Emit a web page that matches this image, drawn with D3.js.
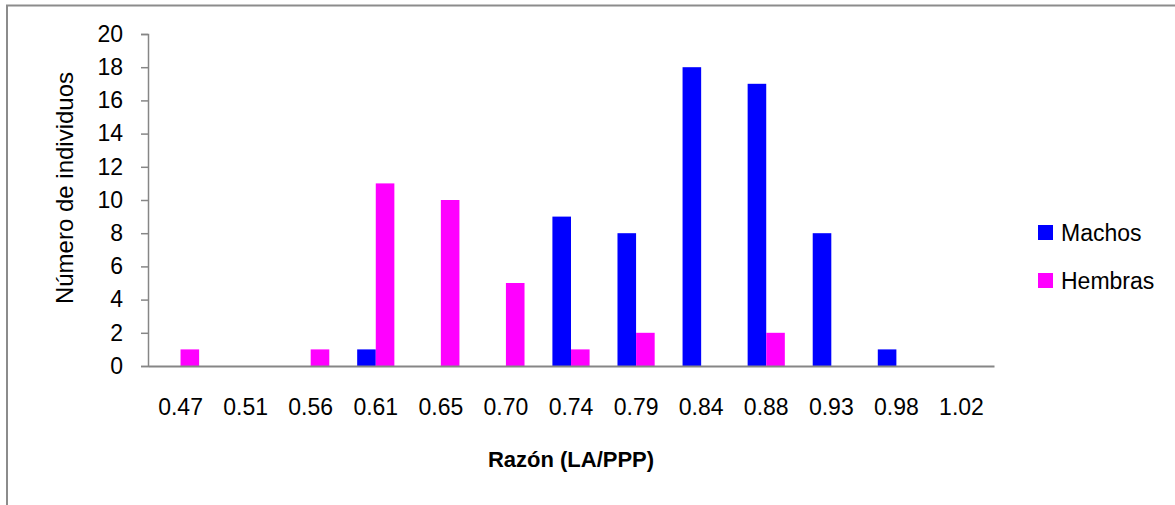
<!DOCTYPE html>
<html>
<head>
<meta charset="utf-8">
<script src="https://cdn.jsdelivr.net/npm/d3@7"></script>
<style>
  body { margin: 0; background: #fff; }
  svg { display: block; font-family: "Liberation Sans", Arial, sans-serif; }
</style>
</head>
<body>
<div id="chart"></div>
<script>
// datos
var categories = ["0.47", "0.51", "0.56", "0.61", "0.65", "0.70", "0.74", "0.79", "0.84", "0.88", "0.93", "0.98", "1.02"];
var machos  = [0, 0, 0, 1, 0, 0, 9, 8, 18, 17, 8, 1, 0];
var hembras = [1, 0, 1, 11, 10, 5, 1, 2, 0, 2, 0, 0, 0];
var seriesNames = ["Machos", "Hembras"];
var seriesColors = ["#0000ff", "#ff00ff"];
var yTicks = [0, 2, 4, 6, 8, 10, 12, 14, 16, 18, 20];

var W = 1175, H = 505;
var svg = d3.select("#chart").append("svg").attr("width", W).attr("height", H);

// marco exterior (recortado)
svg.append("path")
  .attr("d", "M7,505 V5.5 H1175")
  .attr("fill", "none").attr("stroke", "#8c8c8c").attr("stroke-width", 2);

// ojo: "top" choca con window.top
var pLeft = 148, pRight = 994, pTop = 34, pBottom = 366;

var x = d3.scaleBand().domain(categories).range([pLeft, pRight]).padding(0);
var xs = d3.scaleBand().domain(seriesNames).range([0, x.bandwidth()]).paddingInner(0).paddingOuter(0.75);
var y = d3.scaleLinear().domain([0, 20]).range([pBottom, pTop]);

var rows = categories.map(function(c, i) { return { cat: c, vals: [machos[i], hembras[i]] }; });

var g = svg.append("g");
var grp = g.selectAll(".cat").data(rows).enter().append("g")
  .attr("transform", function(d) { return "translate(" + x(d.cat) + ",0)"; });

grp.selectAll("rect").data(function(d) {
    return d.vals.map(function(v, j) { return { name: seriesNames[j], v: v, j: j }; });
  }).enter().filter(function(d) { return d.v > 0; }).append("rect")
  .attr("x", function(d) { return xs(d.name); })
  .attr("width", xs.bandwidth())
  .attr("y", function(d) { return y(d.v); })
  .attr("height", function(d) { return y(0) - y(d.v); })
  .attr("fill", function(d) { return seriesColors[d.j]; });

// eje Y
var yAxis = g.append("g").attr("transform", "translate(" + pLeft + ",0)")
  .call(d3.axisLeft(y).tickValues(yTicks).tickSize(7).tickPadding(18));
yAxis.select(".domain").attr("stroke", "#868686").attr("stroke-width", 1.5);
yAxis.selectAll(".tick line").attr("stroke", "#868686").attr("stroke-width", 1.5);
yAxis.selectAll("text").attr("font-size", 23).attr("fill", "#000")
  .attr("font-family", "'Liberation Sans', Arial, sans-serif");

// eje X
var xAxis = g.append("g").attr("transform", "translate(0," + pBottom + ")")
  .call(d3.axisBottom(x).tickSize(0).tickPadding(33));
xAxis.select(".domain").attr("stroke", "#868686").attr("stroke-width", 2);
xAxis.selectAll("text").attr("font-size", 23).attr("fill", "#000")
  .attr("font-family", "'Liberation Sans', Arial, sans-serif");

// títulos
svg.append("text")
  .attr("transform", "translate(73,188) rotate(-90)")
  .attr("text-anchor", "middle")
  .attr("font-size", 24)
  .text("Número de individuos");

svg.append("text")
  .attr("x", 571).attr("y", 467)
  .attr("text-anchor", "middle")
  .attr("font-size", 22).attr("font-weight", "bold")
  .text("Razón (LA/PPP)");

// leyenda
var leg = svg.selectAll(".leg").data(seriesNames).enter().append("g")
  .attr("transform", function(d, i) { return "translate(1038," + (225 + i * 48) + ")"; });
leg.append("rect").attr("width", 15).attr("height", 15)
  .attr("fill", function(d, i) { return seriesColors[i]; });
leg.append("text").attr("x", 23).attr("y", 16)
  .attr("font-size", 23)
  .text(function(d) { return d; });
</script>
</body>
</html>
